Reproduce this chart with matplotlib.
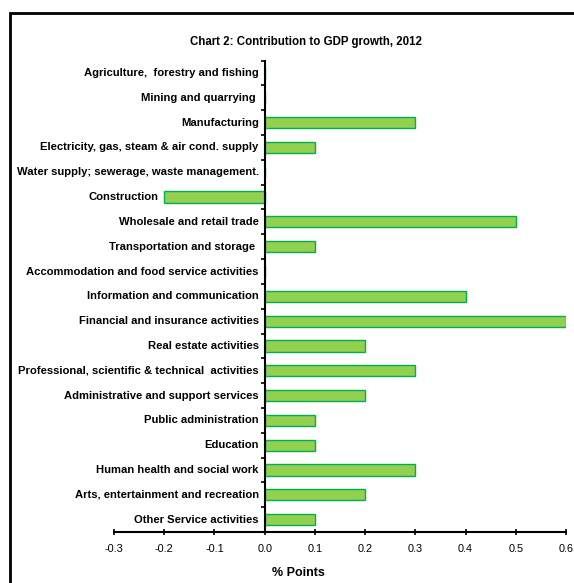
import matplotlib
matplotlib.use("Agg")
import matplotlib.pyplot as plt
import matplotlib.ticker as ticker
from matplotlib.patches import Rectangle

# ── Data ────────────────────────────────────────────────────────────────
sectors = [
    "Agriculture,  forestry and fishing",
    "Mining and quarrying ",
    "Manufacturing",
    "Electricity, gas, steam & air cond. supply",
    "Water supply; sewerage, waste management.",
    "Construction",
    "Wholesale and retail trade",
    "Transportation and storage ",
    "Accommodation and food service activities",
    "Information and communication",
    "Financial and insurance activities",
    "Real estate activities",
    "Professional, scientific & technical  activities",
    "Administrative and support services",
    "Public administration",
    "Education",
    "Human health and social work",
    "Arts, entertainment and recreation",
    "Other Service activities",
]
contrib = [0.0, 0.0, 0.3, 0.1, 0.0, -0.2, 0.5, 0.1, 0.0, 0.4,
           0.6, 0.2, 0.3, 0.2, 0.1, 0.1, 0.3, 0.2, 0.1]
xticks = [-0.3, -0.2, -0.1, 0.0, 0.1, 0.2, 0.3, 0.4, 0.5, 0.6]

FONT = ["Liberation Sans Narrow", "Liberation Sans", "DejaVu Sans"]
plt.rcParams["font.family"] = FONT

fig = plt.figure(figsize=(5.74, 5.83), dpi=100)
ax = fig.add_axes([0.1986, 0.0875, 0.7874, 0.8085])

# outer frame
fig.patches.append(Rectangle((10 / 574, -0.1), 1.2, 1 - 13 / 583 + 0.1,
                             transform=fig.transFigure, fill=False,
                             edgecolor="black", linewidth=2))

ypos = list(range(len(sectors)))
ax.barh(ypos, contrib, height=0.45, color="#92d050", edgecolor="#00b050",
        linewidth=1.0, zorder=2)

for y, label, v in zip(ypos, sectors, contrib):
    ax.text(min(v, 0) - 0.012, y, label, ha="right", va="center",
            fontsize=8.1, fontweight="bold")

ax.set_ylim(len(sectors) - 0.5, -0.5)
ax.set_xlim(-0.3, 0.6)
ax.xaxis.set_major_locator(ticker.FixedLocator(xticks))
ax.xaxis.set_major_formatter(ticker.FormatStrFormatter("%.1f"))

ax.spines["left"].set_position(("data", 0))
ax.spines["right"].set_visible(False)
ax.spines["top"].set_visible(False)
ax.spines["left"].set_linewidth(1.5)
ax.spines["bottom"].set_linewidth(1.5)

ax.set_yticks([])
ax.yaxis.set_minor_locator(ticker.FixedLocator([i - 0.5 for i in range(len(sectors) + 1)]))
ax.tick_params(axis="y", which="minor", direction="out", length=3, width=1.2)
ax.tick_params(axis="x", direction="inout", length=5, width=1.2, labelsize=7.8, pad=6)

fig.text(298 / 574, 1 - 573 / 583, "% Points", ha="center", va="center",
         fontsize=9, fontweight="bold")
fig.text(306 / 574, 1 - 42 / 583, "Chart 2: Contribution to GDP growth, 2012",
         ha="center", va="center", fontsize=8.3, fontweight="bold")

fig.savefig("out.png", dpi=100)
